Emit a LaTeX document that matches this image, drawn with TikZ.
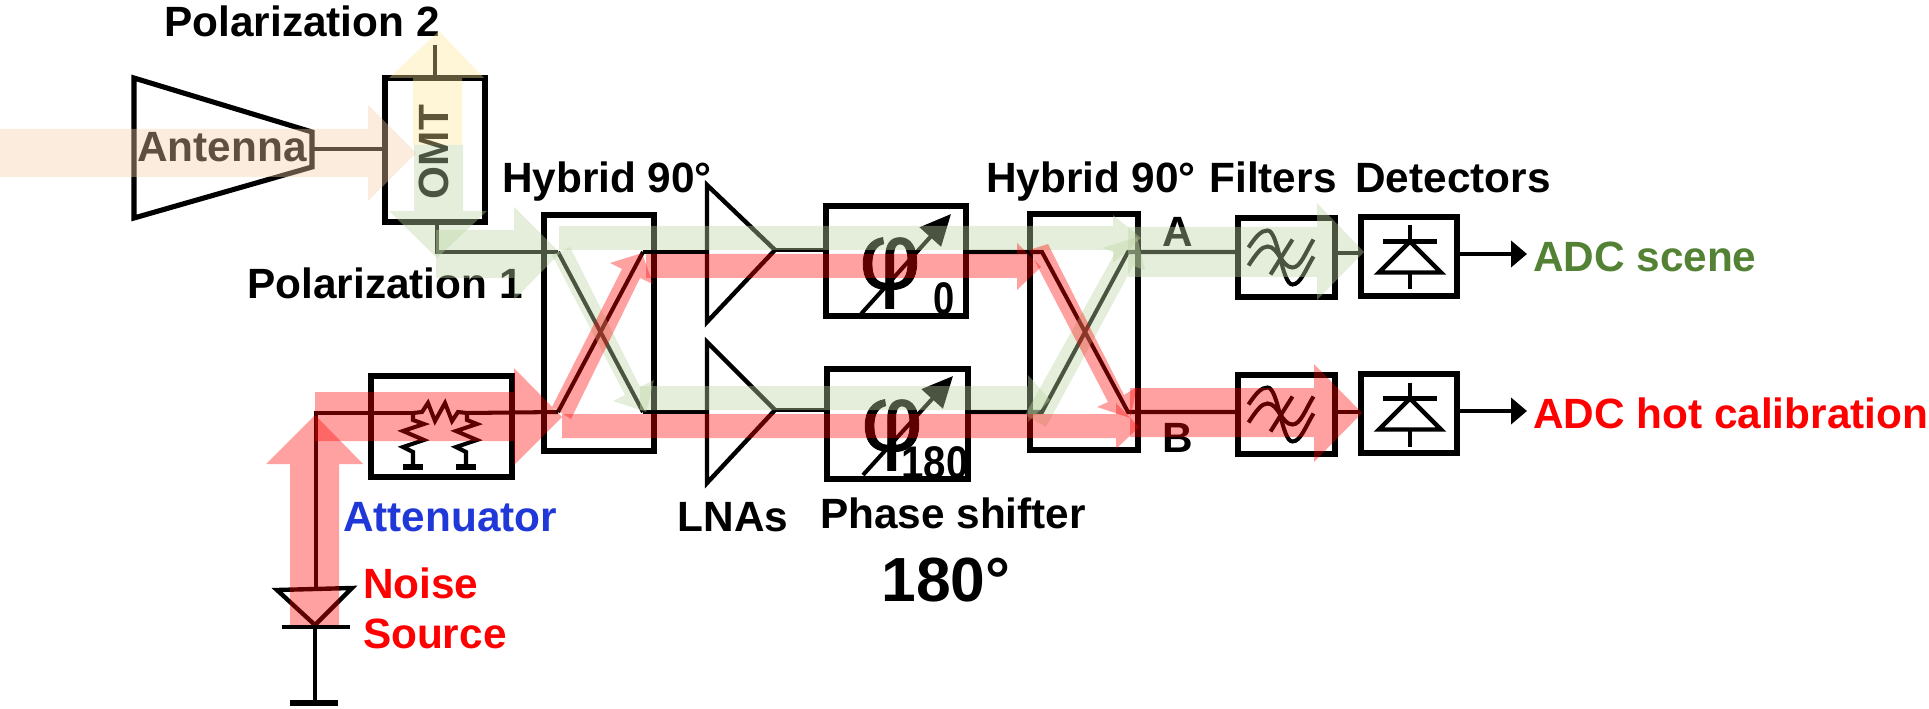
\documentclass[tikz,border=0pt]{standalone}
\usepackage{fontspec}
\setmainfont{Liberation Sans}
\newfontface\phifont{Liberation Sans}[FakeBold=0.9]
\usepackage{xcolor}
\usepackage{tikz}
\usetikzlibrary{arrows.meta}
\usetikzlibrary{positioning}
\definecolor{beamred}{RGB}{255,0,0}
\definecolor{beamgreen}{RGB}{187,212,162}
\definecolor{beamorange}{RGB}{244,205,167}
\definecolor{beamyellow}{RGB}{255,230,150}
\definecolor{scenegreen}{RGB}{84,130,53}
\definecolor{attblue}{RGB}{32,56,216}
\tikzset{
    block/.style={draw,line width=2.9pt,inner sep=0pt,outer sep=0pt},
    wire/.style={line width=2.3pt},
    lbl/.style={inner sep=0pt,outer sep=0pt,font=\fontsize{24.1}{28}\selectfont\bfseries},
    philbl/.style={inner sep=0pt,outer sep=0pt,font=\fontsize{54}{54}\phifont},
    redbeam/.style={fill=beamred,fill opacity=.37},
    greenbeam/.style={fill=beamgreen,fill opacity=.4},
    orangebeam/.style={fill=beamorange,fill opacity=.39},
    yellowbeam/.style={fill=beamyellow,fill opacity=.37},
    outarrow/.style={wire,-{Triangle[length=.32cm,width=.52cm]}},
    shiftarrow/.style={wire,-{Triangle[length=.62cm,width=.56cm]}},
    filtersym/.pic={
        \draw[wire] (-38,-10) .. controls (-30,-22) and (-25,-27) .. (-19,-27) .. controls (-8,-27) and (-5,27) .. (6,27) .. controls (14,27) and (19,12) .. (27,-1);
        \draw[wire] (-38,8) .. controls (-30,-4) and (-25,-11) .. (-19,-11) .. controls (-8,-11) and (-5,10) .. (6,10) .. controls (14,10) and (19,-5) .. (27,-18);
        \draw[wire] (-16,17) -- (6,-18);
    },
    detsym/.pic={
        \draw[wire] (0,-31) -- (0,-15);
        \draw[wire] (-27,-15) -- (27,-15);
        \draw[line width=2.5pt,line join=miter] (0,-15) -- (31,16) -- (-31,16) -- cycle;
        \draw[wire] (0,16) -- (0,33);
    }
}
\begin{document}
\begin{tikzpicture}[x=0.02cm,y=-0.02cm]
    \useasboundingbox (0,0) rectangle (1929,709);
    % blocks
    \node[block,minimum width=2cm,minimum height=2.88cm] (omt) at (435,150) {};
    \node[block,minimum width=2.82cm,minimum height=2.02cm] (atten) at (441.5,426.5) {};
    \node[block,minimum width=2.2cm,minimum height=4.72cm] (hybone) at (599,333) {};
    \node[block,minimum width=2.16cm,minimum height=4.72cm] (hybtwo) at (1084,332) {};
    \node[block,minimum width=2.8cm,minimum height=2.2cm] (phasezero) at (896,261) {};
    \node[block,minimum width=2.82cm,minimum height=2.2cm] (phaseoneeighty) at (897.5,424) {};
    \node[block,minimum width=1.94cm,minimum height=1.58cm] (filta) at (1286.5,257.5) {};
    \node[block,minimum width=1.94cm,minimum height=1.58cm] (filtb) at (1286.5,414.5) {};
    \node[block,minimum width=1.92cm,minimum height=1.58cm] (deta) at (1409,256.5) {};
    \node[block,minimum width=1.92cm,minimum height=1.58cm] (detb) at (1409,413.5) {};
    % ports
    \coordinate (anttip) at (312,149);
    \coordinate (omtin) at (385,149);
    \coordinate (poltwotop) at (435,45);
    \coordinate (poltwo) at (435,78);
    \coordinate (polone) at (437,222);
    \coordinate (poloneknee) at (437,252);
    \coordinate (hta) at (558,252);
    \coordinate (htb) at (643,252);
    \coordinate (hba) at (558,412);
    \coordinate (hbb) at (643,412);
    \coordinate (amptopin) at (707,252);
    \coordinate (ampbotin) at (707,412);
    \coordinate (amptop) at (775,250);
    \coordinate (ampbot) at (775,410);
    \coordinate (pztin) at (826,250);
    \coordinate (pzbin) at (827,410);
    \coordinate (pztout) at (966,252);
    \coordinate (pzbout) at (968,412);
    \coordinate (kta) at (1042,252);
    \coordinate (ktb) at (1128,252);
    \coordinate (kba) at (1042,412);
    \coordinate (kbb) at (1128,412);
    \coordinate (filtain) at (1238,252);
    \coordinate (filtbin) at (1238,412);
    \coordinate (filtaout) at (1335,253);
    \coordinate (filtbout) at (1335,412);
    \coordinate (detain) at (1361,253);
    \coordinate (detbin) at (1361,412);
    \coordinate (detaout) at (1457,254);
    \coordinate (detbout) at (1457,411);
    \coordinate (adca) at (1527,254);
    \coordinate (adcb) at (1527,411);
    \coordinate (noiseknee) at (316,413);
    \coordinate (noisein) at (316,590);
    \coordinate (attl) at (413,413);
    \coordinate (attr) at (467,413);
    \coordinate (noiseapex) at (315,625);
    \coordinate (gnd) at (315,703);
    % antenna and amplifiers
    \draw[line width=2.9pt,line join=miter] (134,78) -- (312,132) -- (312,167) -- (134,218) -- cycle;
    \draw[line width=2.5pt,line join=miter] (707,185) -- (775,250) -- (707,322) -- cycle;
    \draw[line width=2.5pt,line join=miter] (707,342) -- (775,410) -- (707,483) -- cycle;
    % wires
    \draw[wire] (anttip) -- (omtin);
    \draw[wire] (poltwotop) -- (poltwo);
    \draw[wire] (polone) -- (poloneknee) -- (hta);
    \draw[wire] (hta) -- (hbb);
    \draw[wire] (hba) -- (htb);
    \draw[wire] (htb) -- (amptopin);
    \draw[wire] (hbb) -- (ampbotin);
    \draw[wire] (amptop) -- (pztin);
    \draw[wire] (ampbot) -- (pzbin);
    \draw[wire] (pztout) -- (kta) -- (kbb) -- (filtbin);
    \draw[wire] (pzbout) -- (kba) -- (ktb) -- (filtain);
    \draw[wire] (filtaout) -- (detain);
    \draw[wire] (filtbout) -- (detbin);
    \draw[outarrow] (detaout) -- (adca);
    \draw[outarrow] (detbout) -- (adcb);
    % noise source
    \draw[wire] (noisein) -- (noiseknee) -- (attl);
    \draw[wire] (attr) -- (hba);
    \draw[line width=2.5pt,line join=miter] (277,590) -- (352,588) -- (noiseapex) -- cycle;
    \draw[wire] (282,627) -- (350,627);
    \draw[wire] (noiseapex) -- (gnd);
    \draw[line width=3.8pt] (290,703) -- (338,703);
    % attenuator
    \draw[wire] (attl) -- (422,412) -- (428,403) -- (435,421) -- (445,403) -- (452,421) -- (458,412) -- (attr);
    \draw[wire] (attl) -- (413,420) -- (424,424) -- (403,431) -- (424,440) -- (403,447) -- (413,452) -- (413,465);
    \draw[wire] (attr) -- (467,420) -- (477,424) -- (456,431) -- (477,440) -- (456,447) -- (466,452) -- (466,465);
    \draw[line width=3.3pt] (403,467) -- (423,467);
    \draw[line width=3.3pt] (456,467) -- (476,467);
    % symbols
    \pic at (filta) {filtersym};
    \pic at (filtb) {filtersym};
    \pic at ([xshift=.02cm]deta.center) {detsym};
    \pic at ([xshift=.02cm]detb.center) {detsym};
    \node[philbl] (phizero) at (890,273) {φ};
    \node[philbl] (phioneeighty) at (892,435) {φ};
    \draw[shiftarrow] (861,314) -- (951,214);
    \draw[shiftarrow] (863,475) -- (953,376);
    \node[lbl,xscale=.9,yscale=1.08] (zeroval) at (944,299) {0};
    \node[lbl,xscale=.95,yscale=1.08] (oneeightyval) at (935,463) {180};
    % labels
    \node[lbl,anchor=base] (poltwolbl) at (302,37) {Polarization 2};
    \node[lbl,anchor=base] (polonelbl) at (385,298) {Polarization 1};
    \node[lbl,anchor=base] (antlbl) at (222,162) {Antenna};
    \node[lbl,anchor=base,rotate=90] (omtlbl) at (448,152) {OMT};
    \node[lbl,anchor=base] (hybonelbl) at (607,193) {Hybrid 90°};
    \node[lbl,anchor=base] (hybtwolbl) at (1091,193) {Hybrid 90°};
    \node[lbl,anchor=base] (filtlbl) at (1273,193) {Filters};
    \node[lbl,anchor=base] (detlbl) at (1453,193) {Detectors};
    \node[lbl,anchor=base] (alabel) at (1178,247) {A};
    \node[lbl,anchor=base] (blabel) at (1178,452) {B};
    \node[lbl,anchor=base west,text=scenegreen] (adcalbl) at (1533,272) {ADC scene};
    \node[lbl,anchor=base west,text=red] (adcblbl) at (1533,428) {ADC hot calibration};
    \node[lbl,anchor=base west,text=attblue] (attlbl) at (343,531) {Attenuator};
    \node[lbl,anchor=base west,text=red] (noiselbl) at (363,598) {Noise};
    \node[lbl,anchor=base west,text=red] (sourcelbl) at (363,648) {Source};
    \node[lbl,anchor=base] (lnalbl) at (733,531) {LNAs};
    \node[lbl,anchor=base] (phaselbl) at (953,528) {Phase shifter};
    \node[lbl,anchor=base,font=\fontsize{35.5}{40}\selectfont\bfseries] (onelbl) at (946,601) {180°};
    % beams on top
    \fill[orangebeam] (0,129) -- (368,129) -- (368,105) -- (416,153) -- (368,201) -- (368,177) -- (0,177) -- cycle;
    \fill[yellowbeam] (413,145) -- (413,78) -- (389,78) -- (439,31) -- (484,78) -- (462,78) -- (462,145) -- cycle;
    \fill[greenbeam] (414,145) -- (414,211) -- (389,211) -- (437,258) -- (487,211) -- (463,211) -- (463,145) -- cycle;
    \fill[greenbeam] (436,230) -- (514,230) -- (514,207) -- (560,253) -- (514,300) -- (514,278) -- (436,278) -- cycle;
    \fill[greenbeam] (552,255) -- (625,395) -- (613,401) -- (646,412) -- (654,380) -- (640,387) -- (570,247) -- cycle;
    \fill[greenbeam] (559,226) -- (1113,226) -- (1113,215) -- (1141,238) -- (1113,263) -- (1113,250) -- (559,250) -- cycle;
    \fill[greenbeam] (640,386) -- (1028,386) -- (1028,375) -- (1050,400) -- (1028,422) -- (1028,410) -- (640,410) -- cycle;
    \fill[greenbeam] (1025,415) -- (1115,253) -- (1103,248) -- (1137,237) -- (1145,270) -- (1133,266) -- (1046,427) -- cycle;
    \fill[greenbeam] (1128,227) -- (1317,227) -- (1317,203) -- (1364,252) -- (1317,300) -- (1317,277) -- (1128,277) -- cycle;
    \fill[redbeam] (290,625) -- (290,464) -- (266,464) -- (315,415) -- (363,464) -- (339,464) -- (339,625) -- cycle;
    \fill[redbeam] (315,392) -- (514,392) -- (514,368) -- (562,417) -- (514,465) -- (514,441) -- (315,441) -- cycle;
    \fill[redbeam] (552,407) -- (622,269) -- (610,263) -- (642,253) -- (653,284) -- (640,278) -- (571,419) -- cycle;
    \fill[redbeam] (646,254) -- (1017,254) -- (1017,243) -- (1041,267) -- (1017,290) -- (1017,278) -- (646,278) -- cycle;
    \fill[redbeam] (562,414) -- (1116,414) -- (1116,403) -- (1139,427) -- (1116,449) -- (1116,438) -- (562,438) -- cycle;
    \fill[redbeam] (1029,250) -- (1108,402) -- (1097,407) -- (1130,418) -- (1137,387) -- (1124,395) -- (1048,244) -- cycle;
    \fill[redbeam] (1130,388) -- (1314,388) -- (1314,364) -- (1362,413) -- (1314,462) -- (1314,437) -- (1130,437) -- cycle;
\end{tikzpicture}
\end{document}
